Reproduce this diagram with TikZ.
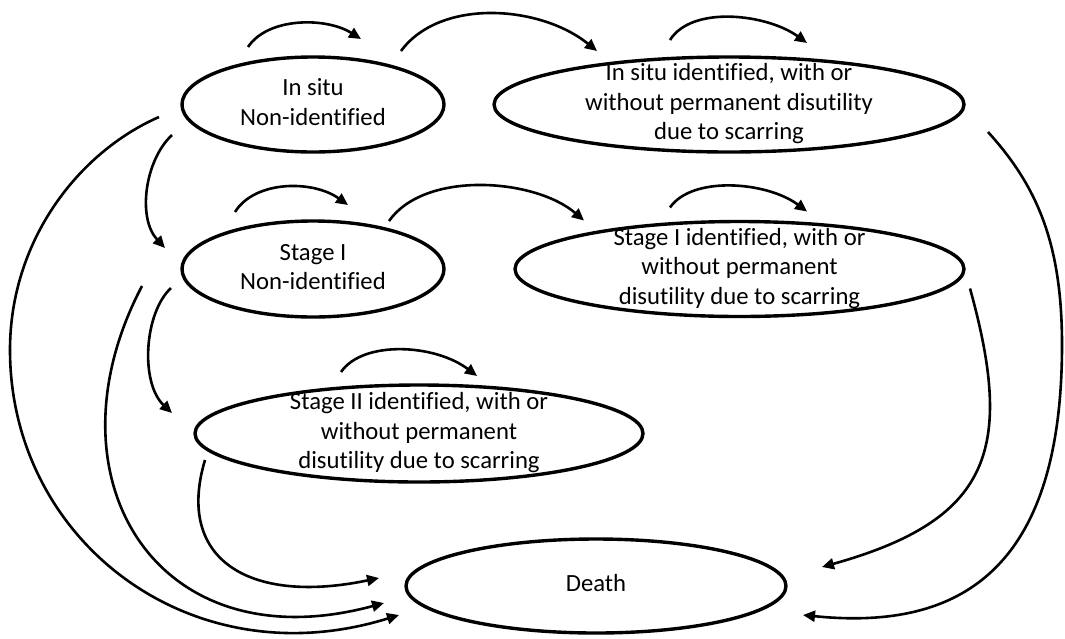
\documentclass[tikz,border=0pt]{standalone}
\usepackage{fontspec}
\setmainfont{Carlito}[Ligatures=CommonOff]
\usepackage{tikz}
\usetikzlibrary{arrows.meta,positioning,shapes.geometric}
\newcommand{\statetext}[1]{\vbox to 0pt{\vss\hbox{\begin{tabular}{@{}c@{}}#1\end{tabular}}\vss}}

\begin{document}
\begin{tikzpicture}[x=1pt, y=-1pt, font=\fontsize{24.7}{29.5}\selectfont,
  state/.style={draw, ellipse, line width=3.4pt, inner sep=0pt, outer sep=0pt, minimum height=95pt},
  flow/.style={-{Triangle[length=12pt,width=11pt]}, line width=2.6pt}]
  \useasboundingbox (0,0) rectangle (1065,638);
  \node[state, minimum width=262pt] at (313,104.5)
    (insitu) {\statetext{In situ\\Non-identified}};
  \node[state, minimum width=470pt, right=50pt of insitu]
    (insituid) {\statetext{In situ identified, with or\\without permanent disutility\\due to scarring}};
  \node[state, minimum width=262pt, minimum height=96pt, below=69pt of insitu]
    (stageone) {\statetext{Stage I\\Non-identified}};
  \node[state, minimum width=449pt, right=71pt of stageone]
    (stageoneid) {\statetext{Stage I identified, with or\\without permanent\\disutility due to scarring}};
  \node[state, minimum width=448pt, minimum height=97pt, below=68pt of stageone, xshift=106pt]
    (stagetwoid) {\statetext{Stage II identified, with or\\without permanent\\disutility due to scarring}};
  \node[state, minimum width=380pt, minimum height=94pt, below=57pt of stagetwoid, xshift=177pt]
    (death) {\statetext{Death}};
  \draw[flow] ([shift={(-65,-10)}]insitu.north) .. controls +(20,-30) and +(-35,-22) .. ([shift={(48,-18)}]insitu.north);
  \draw[flow] ([shift={(88,-6)}]insitu.north) .. controls +(39,-53) and +(-57,-46) .. ([shift={(-132,-6)}]insituid.north);
  \draw[flow] ([shift={(-59,-17)}]insituid.north) .. controls +(22,-35) and +(-40,-29) .. ([shift={(78,-14)}]insituid.north);
  \draw[flow] ([shift={(-78,-9)}]stageone.north) .. controls +(20,-32) and +(-35,-25) .. ([shift={(35,-16)}]stageone.north);
  \draw[flow] ([shift={(76,0)}]stageone.north) .. controls +(36,-51) and +(-49,-42) .. ([shift={(-155.5,-1)}]stageoneid.north);
  \draw[flow] ([shift={(-69.5,-14)}]stageoneid.north) .. controls +(22,-32) and +(-40,-30) .. ([shift={(67.5,-10)}]stageoneid.north);
  \draw[flow] ([shift={(-78,-13)}]stagetwoid.north) .. controls +(22,-32) and +(-42,-32) .. ([shift={(58,-9)}]stagetwoid.north);
  \draw[flow] ([shift={(-10,30.5)}]insitu.west) .. controls +(-27,25) and +(-28,-30) .. ([shift={(-17,-21)}]stageone.west);
  \draw[flow] ([shift={(-11,19)}]stageone.west) .. controls +(-27,25) and +(-32,-30) .. ([shift={(-23,-20.5)}]stagetwoid.west);
  \draw[flow] ([shift={(10,26.5)}]stagetwoid.west) .. controls +(-30,100) and +(-129,27) .. ([shift={(-27,-8)}]death.west);
  \draw[flow] ([shift={(-40,17)}]stageone.west) .. controls +(-100,190) and +(-229,62) .. ([shift={(-22,17)}]death.west);
  \draw[flow] ([shift={(-23,12.5)}]insitu.west) .. controls +(-80,35) and +(0,-110) .. ([shift={(-172,245.5)}]insitu.west)
    .. controls +(0,190) and +(-209,65) .. ([shift={(-7,29)}]death.west);
  \draw[flow] ([shift={(6,19.5)}]stageoneid.east) .. controls +(45,162) and +(168,-47) .. ([shift={(36,-19)}]death.east);
  \draw[flow] ([shift={(24,27.5)}]insituid.east) .. controls +(50,55) and +(0,-100) .. ([shift={(98,240.5)}]insituid.east)
    .. controls +(0,235) and +(147,15) .. ([shift={(17,29)}]death.east);
\end{tikzpicture}
\end{document}
